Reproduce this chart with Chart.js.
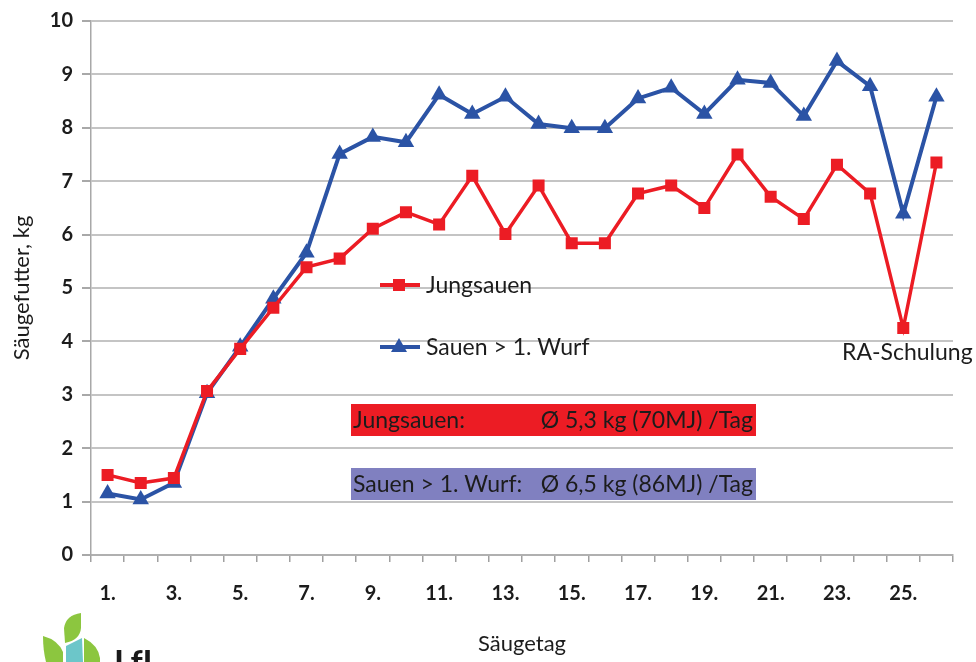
<!DOCTYPE html>
<html>
<head>
<meta charset="utf-8">
<script src="https://cdn.jsdelivr.net/npm/chart.js@4/dist/chart.umd.min.js"></script>
<style>
  html,body{margin:0;padding:0;background:#fff;}
  #wrap{position:relative;width:976px;height:662px;overflow:hidden;}
</style>
</head>
<body>
<div id="wrap"><canvas id="c" width="976" height="662"></canvas></div>
<script>
const days = ['1.','2.','3.','4.','5.','6.','7.','8.','9.','10.','11.','12.','13.','14.','15.','16.','17.','18.','19.','20.','21.','22.','23.','24.','25.','26.'];
const jungsauen = [1.50,1.35,1.44,3.07,3.86,4.63,5.39,5.55,6.11,6.42,6.19,7.10,6.01,6.92,5.84,5.84,6.77,6.92,6.50,7.50,6.71,6.29,7.31,6.77,4.25,7.35];
const sauen = [1.15,1.04,1.35,3.03,3.90,4.80,5.66,7.51,7.83,7.73,8.62,8.26,8.58,8.07,7.99,7.99,8.55,8.75,8.26,8.90,8.84,8.22,9.25,8.78,6.39,8.58];
const seriesNames = ['Jungsauen','Sauen > 1. Wurf'];
const yTicks = [0,1,2,3,4,5,6,7,8,9,10];
const avgLabels = ['Jungsauen:','Sauen > 1. Wurf:'];
const avgValues = ['Ø 5,3 kg (70MJ) /Tag','Ø 6,5 kg (86MJ) /Tag'];
const note = 'RA-Schulung';

const RED = '#ec1c24', BLUE = '#2b53a5', PURPLE = '#8080c0', TXT = '#1c1c1c';
const FONT = 'Lato, "Open Sans", sans-serif';

const overlay = {
  id: 'overlay',
  afterDraw(chart) {
    const ctx = chart.ctx;
    ctx.save();
    // legend
    const lg = [{y:285,c:RED,s:'rect'},{y:347,c:BLUE,s:'triangle'}];
    lg.forEach((l,i) => {
      ctx.strokeStyle = l.c; ctx.lineWidth = 4;
      ctx.beginPath(); ctx.moveTo(380,l.y); ctx.lineTo(420,l.y); ctx.stroke();
      ctx.fillStyle = l.c;
      if (l.s === 'rect') { ctx.fillRect(393,l.y-6,12,12); }
      else { ctx.beginPath(); ctx.moveTo(399,l.y-9); ctx.lineTo(407,l.y+5); ctx.lineTo(391,l.y+5); ctx.closePath(); ctx.fill(); }
      ctx.fillStyle = TXT; ctx.font = '23px ' + FONT; ctx.textBaseline = 'middle'; ctx.textAlign = 'left';
      ctx.fillText(seriesNames[i], 426, l.y + 1);
    });
    // average boxes
    const boxes = [{y:404,c:RED},{y:468,c:PURPLE}];
    boxes.forEach((b,i) => {
      ctx.fillStyle = b.c; ctx.fillRect(351,b.y,405,32);
      ctx.fillStyle = TXT; ctx.font = '23px ' + FONT; ctx.textBaseline = 'middle';
      ctx.textAlign = 'left'; ctx.fillText(avgLabels[i], 353, b.y + 17);
      ctx.textAlign = 'right'; ctx.fillText(avgValues[i], 753, b.y + 17);
    });
    // note
    ctx.fillStyle = TXT; ctx.font = '23px ' + FONT; ctx.textAlign = 'left'; ctx.textBaseline = 'middle';
    ctx.fillText(note, 842, 353);
    // logo
    ctx.fillStyle = '#8cc63f';
    ctx.beginPath(); ctx.moveTo(64,628); ctx.quadraticCurveTo(66,615,81,613); ctx.lineTo(81,628); ctx.quadraticCurveTo(80,640,65,643); ctx.closePath(); ctx.fill();
    ctx.beginPath(); ctx.moveTo(43,636); ctx.quadraticCurveTo(58,640,63,652); ctx.lineTo(63,662); ctx.lineTo(46,662); ctx.quadraticCurveTo(43,650,43,636); ctx.closePath(); ctx.fill();
    ctx.beginPath(); ctx.moveTo(84,638); ctx.quadraticCurveTo(98,645,100,658); ctx.lineTo(100,662); ctx.lineTo(84,662); ctx.closePath(); ctx.fill();
    ctx.fillStyle = '#6cc6c9';
    ctx.beginPath(); ctx.moveTo(82,638); ctx.lineTo(83,662); ctx.lineTo(66,662); ctx.lineTo(66,646); ctx.closePath(); ctx.fill();
    ctx.fillStyle = '#1a1a1a'; ctx.font = 'bold 34px ' + FONT; ctx.textAlign = 'left'; ctx.textBaseline = 'top';
    ctx.fillText('LfL', 114, 647);
    ctx.restore();
  }
};

new Chart(document.getElementById('c'), {
  type: 'line',
  data: {
    labels: days,
    datasets: [
      { label: seriesNames[0], data: jungsauen, borderColor: RED, backgroundColor: RED, borderWidth: 3.5,
        pointStyle: 'rect', pointRadius: 8.5, pointHoverRadius: 8.5, pointBorderWidth: 0, tension: 0 },
      { label: seriesNames[1], data: sauen, borderColor: BLUE, backgroundColor: BLUE, borderWidth: 4,
        pointStyle: 'triangle', pointRadius: 9.5, pointHoverRadius: 9.5, pointBorderWidth: 0, tension: 0 }
    ]
  },
  options: {
    responsive: false,
    animation: false,
    events: [],
    layout: { padding: { top: 20, right: 23, left: 0, bottom: 0 } },
    plugins: { legend: { display: false }, tooltip: { enabled: false } },
    scales: {
      x: {
        offset: true,
        grid: { offset: true, drawOnChartArea: false, drawTicks: true, tickLength: 7, color: '#a0a0a0', lineWidth: 1.5 },
        border: { display: true, color: '#b0b0b0', width: 2 },
        ticks: {
          autoSkip: false, maxRotation: 0, padding: 20, color: TXT,
          font: { family: FONT, size: 20, weight: 'bold' },
          callback: function(v, i) { return i % 2 === 0 ? days[i] : ''; }
        },
        title: { display: true, text: 'Säugetag', color: TXT, font: { family: FONT, size: 22 }, padding: { bottom: 5 } },
        afterFit: s => { s.height = 107; }
      },
      y: {
        min: 0, max: 10,
        afterBuildTicks: s => { s.ticks = yTicks.map(v => ({ value: v })); },
        grid: { color: '#c4c4c4', lineWidth: 2, tickLength: 9, tickColor: '#a8a8a8' },
        border: { display: true, color: '#a8a8a8', width: 1.5 },
        ticks: { padding: 9, color: TXT, font: { family: FONT, size: 20, weight: 'bold' } },
        title: { display: true, text: 'Säugefutter, kg', color: TXT, font: { family: FONT, size: 22 }, padding: { top: 9 } },
        afterFit: s => { s.width = 91; }
      }
    }
  },
  plugins: [overlay]
});
</script>
</body>
</html>
